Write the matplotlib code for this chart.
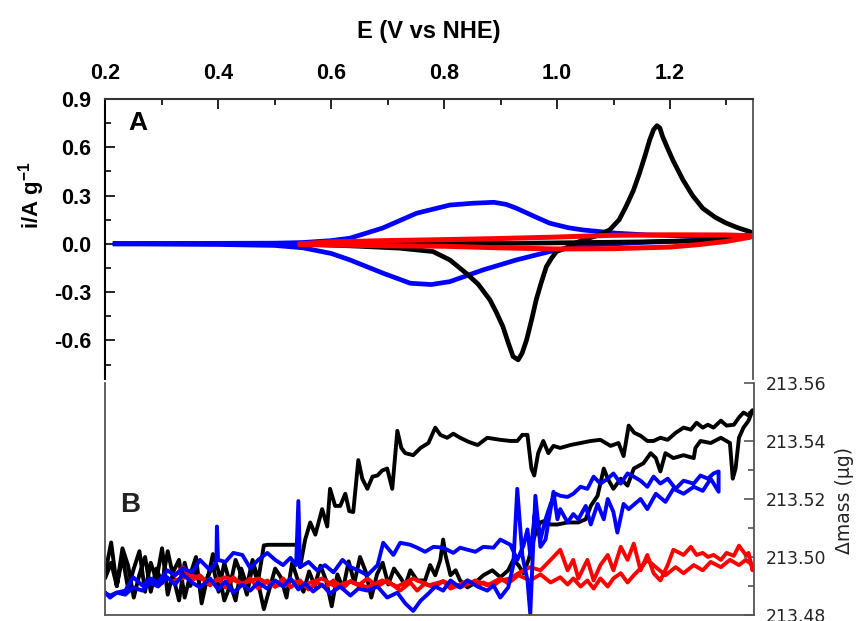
import matplotlib
matplotlib.use("Agg")
import matplotlib.pyplot as plt
import matplotlib.ticker as ticker

plt.rcParams['font.family'] = ['Liberation Sans', 'DejaVu Sans']
plt.rcParams['axes.unicode_minus'] = False
plt.rcParams['mathtext.fontset'] = 'custom'
plt.rcParams['mathtext.rm'] = 'Liberation Sans'
plt.rcParams['mathtext.bf'] = 'Liberation Sans:bold'

# ---- panel A: cyclic voltammograms (E in V vs NHE, i in A/g) ----
cv_black_E = [0.545, 0.60, 0.65, 0.721, 0.78, 0.81, 0.839, 0.86, 0.881, 0.893, 0.904, 0.913,
              0.922, 0.931, 0.938, 0.946, 0.955, 0.963, 0.972, 0.981, 0.99, 0.999, 1.02, 1.045,
              1.07, 1.093, 1.11, 1.122, 1.135, 1.146, 1.156, 1.164, 1.171, 1.177, 1.182, 1.187,
              1.195, 1.205, 1.223, 1.24, 1.258, 1.28, 1.30, 1.32, 1.341, 1.347,
              1.33, 1.30, 1.25, 1.15, 1.05, 0.95, 0.85, 0.70, 0.545]
cv_black_i = [0.0, -0.008, -0.015, -0.027, -0.048, -0.10, -0.183, -0.25, -0.348, -0.43, -0.514, -0.61,
              -0.70, -0.721, -0.68, -0.597, -0.47, -0.348, -0.24, -0.142, -0.09, -0.048, -0.02, 0.024,
              0.05, 0.086, 0.15, 0.231, 0.33, 0.439, 0.55, 0.645, 0.71, 0.734, 0.72, 0.666,
              0.60, 0.521, 0.397, 0.30, 0.221, 0.165, 0.128, 0.10, 0.076, 0.065,
              0.045, 0.03, 0.02, 0.012, 0.008, 0.004, 0.002, 0.001, 0.0]

cv_blue_E = [0.217, 0.30, 0.40, 0.50, 0.55, 0.60, 0.633, 0.691, 0.751, 0.81, 0.85, 0.888, 0.91,
             0.928, 0.96, 0.987, 1.02, 1.046, 1.105, 1.16, 1.25, 1.347,
             1.30, 1.25, 1.16, 1.10, 1.046, 0.987, 0.928, 0.869, 0.81, 0.777, 0.74, 0.692,
             0.633, 0.60, 0.55, 0.50, 0.40, 0.30, 0.217]
cv_blue_i = [0.0, 0.002, 0.003, 0.004, 0.008, 0.02, 0.035, 0.098, 0.19, 0.241, 0.252, 0.258, 0.245,
             0.221, 0.17, 0.128, 0.10, 0.086, 0.066, 0.055, 0.048, 0.045,
             0.03, 0.02, 0.01, 0.0, -0.007, -0.048, -0.10, -0.162, -0.235, -0.253, -0.245, -0.183,
             -0.10, -0.06, -0.025, -0.01, -0.004, -0.002, 0.0]

cv_red_E = [0.545, 0.60, 0.70, 0.80, 0.90, 1.00, 1.05, 1.10, 1.20, 1.30, 1.347,
            1.34, 1.30, 1.25, 1.20, 1.10, 1.00, 0.90, 0.80, 0.70, 0.60, 0.545]
cv_red_i = [0.0, 0.012, 0.02, 0.026, 0.033, 0.042, 0.048, 0.053, 0.056, 0.055, 0.05,
            0.04, 0.015, -0.005, -0.02, -0.03, -0.032, -0.025, -0.015, -0.012, -0.008, -0.004]

# ---- panel B: mass (ug) vs E ----
m_black_E = [0.20, 0.21, 0.22, 0.23, 0.24, 0.25, 0.26, 0.27, 0.28, 0.29, 0.30, 0.31, 0.32, 0.33,
             0.34, 0.35, 0.36, 0.37, 0.38, 0.39, 0.40, 0.41, 0.42, 0.43, 0.44, 0.45, 0.46, 0.47,
             0.48, 0.488, 0.539, 0.544, 0.553, 0.562, 0.571, 0.583, 0.592, 0.597, 0.606, 0.615,
             0.624, 0.631, 0.638, 0.647, 0.654, 0.663, 0.672, 0.681, 0.689, 0.698, 0.707, 0.716,
             0.723, 0.730, 0.744, 0.757, 0.771, 0.783, 0.792, 0.804, 0.815, 0.827, 0.842, 0.858,
             0.875, 0.898, 0.916, 0.928, 0.937, 0.946, 0.953, 0.958, 0.965, 0.974, 0.983, 0.992,
             1.004, 1.022, 1.040, 1.058, 1.075, 1.093, 1.107, 1.116, 1.125, 1.135, 1.146, 1.158,
             1.169, 1.181, 1.194, 1.208, 1.222, 1.235, 1.245, 1.256, 1.265, 1.275, 1.288, 1.298,
             1.311, 1.320, 1.328, 1.337, 1.344,
             1.337, 1.328, 1.320, 1.314, 1.309, 1.304, 1.288, 1.270, 1.252, 1.243, 1.240, 1.222,
             1.204, 1.190, 1.181, 1.173, 1.164, 1.151, 1.134, 1.123, 1.111, 1.098, 1.088, 1.081,
             1.075, 1.070, 1.058, 1.049, 1.036, 1.017, 0.999, 0.987, 0.974, 0.969, 0.962, 0.957,
             0.948, 0.939, 0.930, 0.921, 0.912, 0.898, 0.884, 0.868, 0.854, 0.840, 0.827, 0.819,
             0.810, 0.801, 0.797, 0.792, 0.783, 0.774, 0.765, 0.751, 0.739, 0.730, 0.721,
             0.71, 0.70, 0.69, 0.68, 0.67, 0.66, 0.65, 0.64, 0.63, 0.62, 0.61, 0.60, 0.59, 0.58,
             0.57, 0.56, 0.55, 0.54, 0.53, 0.52, 0.51, 0.50, 0.49, 0.48, 0.47, 0.46, 0.45, 0.44,
             0.43, 0.42, 0.41, 0.40, 0.39, 0.38, 0.37, 0.36, 0.35, 0.34, 0.33, 0.32, 0.31, 0.30,
             0.29, 0.28, 0.27, 0.26, 0.25, 0.24, 0.23, 0.22, 0.21, 0.20]
m_black = [213.495, 213.505, 213.490, 213.500, 213.489, 213.496, 213.502, 213.488, 213.498, 213.492,
           213.503, 213.487, 213.495, 213.499, 213.486, 213.494, 213.500, 213.484, 213.493, 213.497,
           213.488, 213.498, 213.491, 213.485, 213.496, 213.490, 213.499, 213.492,
           213.504, 213.5042, 213.5042, 213.4965, 213.506, 213.5119, 213.5077, 213.5165, 213.5105,
           213.5235, 213.5176, 213.5176, 213.5218, 213.5158, 213.5155, 213.5334, 213.5270, 213.5235,
           213.5277, 213.5281, 213.5298, 213.5305, 213.5235, 213.5435, 213.5376, 213.5358, 213.5351,
           213.5376, 213.5393, 213.5446, 213.5421, 213.5411, 213.5425, 213.5411, 213.5397, 213.5386,
           213.5411, 213.5404, 213.5400, 213.5400, 213.5421, 213.5421, 213.5305, 213.5281, 213.5358,
           213.5400, 213.5358, 213.5383, 213.5376, 213.5386, 213.5393, 213.5400, 213.5404, 213.5383,
           213.5393, 213.5348, 213.5453, 213.5428, 213.5418, 213.5400, 213.5400, 213.5411, 213.5404,
           213.5428, 213.5446, 213.5439, 213.5463, 213.5446, 213.5456, 213.5446, 213.5470, 213.5453,
           213.5456, 213.5481, 213.5498, 213.5488, 213.5506,
           213.5470, 213.5446, 213.5411, 213.5305, 213.5270, 213.5393, 213.5411, 213.5393, 213.5400,
           213.5376, 213.5341, 213.5351, 213.5341, 213.5358, 213.5295, 213.5341, 213.5358, 213.5323,
           213.5305, 213.5246, 213.5270, 213.5235, 213.5270, 213.5305, 213.5253, 213.5211, 213.5176,
           213.5130, 213.5119, 213.5119, 213.5112, 213.5112, 213.5123, 213.5119, 213.5095, 213.5060,
           213.4990, 213.4944, 213.4972, 213.4990, 213.4954, 213.4930, 213.4954, 213.4937, 213.4912,
           213.4895, 213.4919, 213.4954, 213.4937, 213.5007, 213.5060, 213.4990, 213.4937, 213.4972,
           213.4919, 213.4919, 213.4954, 213.4902, 213.4930,
           213.496, 213.4905, 213.498, 213.494, 213.486, 213.495, 213.500, 213.491, 213.4985,
           213.489, 213.494, 213.483, 213.492, 213.497, 213.490, 213.495, 213.488, 213.492, 213.498,
           213.486, 213.493, 213.496, 213.489, 213.482, 213.491, 213.497, 213.487, 213.494, 213.499,
           213.490, 213.485, 213.495, 213.501, 213.492, 213.487, 213.496, 213.490, 213.498, 213.485,
           213.493, 213.502, 213.491, 213.496, 213.488, 213.500, 213.494, 213.486, 213.497, 213.503,
           213.490, 213.498, 213.493]

m_blue_E = [0.201, 0.208, 0.220, 0.235, 0.249, 0.265, 0.279, 0.293, 0.309, 0.323, 0.337, 0.353,
            0.367, 0.385, 0.399, 0.412, 0.426, 0.442, 0.456, 0.470, 0.486, 0.500, 0.514, 0.527,
            0.541, 0.553, 0.567, 0.583, 0.597, 0.615, 0.633, 0.647, 0.663, 0.681, 0.698, 0.716,
            0.730, 0.744, 0.757, 0.771, 0.783, 0.797, 0.810, 0.827, 0.840, 0.858, 0.875, 0.886,
            0.898, 0.912, 0.921, 0.928, 0.937, 0.946, 0.951, 0.960, 0.969, 0.978, 0.992, 0.999,
            1.004, 1.017, 1.027, 1.036, 1.049, 1.058, 1.070, 1.081, 1.088, 1.098, 1.105, 1.116,
            1.125, 1.146, 1.158, 1.173, 1.190, 1.204, 1.222, 1.240, 1.256, 1.270, 1.284,
            1.284, 1.275, 1.265, 1.252, 1.240, 1.222, 1.208, 1.194, 1.181, 1.169, 1.158, 1.146,
            1.134, 1.123, 1.111, 1.098, 1.088, 1.075, 1.063, 1.052, 1.040, 1.027, 1.017, 1.004,
            0.996, 0.987, 0.978, 0.969, 0.960, 0.951, 0.946, 0.939, 0.928, 0.916, 0.898, 0.886,
            0.868, 0.854, 0.840, 0.827, 0.815, 0.797, 0.780, 0.765, 0.751, 0.739, 0.721, 0.709,
            0.691, 0.681, 0.663, 0.647, 0.633, 0.619, 0.603, 0.588, 0.574, 0.559, 0.544, 0.541,
            0.537, 0.527, 0.514, 0.500, 0.486, 0.470, 0.456, 0.442, 0.426, 0.412, 0.399, 0.397,
            0.396, 0.385, 0.367, 0.353, 0.337, 0.323, 0.309, 0.293, 0.279, 0.265, 0.249, 0.235,
            0.220, 0.208, 0.201]
m_blue = [213.4874, 213.4860, 213.4877, 213.4870, 213.4895, 213.4884, 213.4912, 213.4898, 213.4930,
          213.4905, 213.4940, 213.4912, 213.4895, 213.4926, 213.4888, 213.4916, 213.4877, 213.4905,
          213.4884, 213.4912, 213.4891, 213.4919, 213.4898, 213.4926, 213.4888, 213.4909, 213.4881,
          213.4905, 213.4874, 213.4898, 213.4867, 213.4891, 213.4884, 213.4898, 213.4860, 213.4877,
          213.4840, 213.4814, 213.4849, 213.4874, 213.4898, 213.4884, 213.4919, 213.4895, 213.4919,
          213.4898, 213.4884, 213.4902, 213.4860, 213.4895, 213.4972, 213.5235, 213.5005, 213.4920,
          213.4804, 213.5211, 213.5035, 213.5060, 213.5225, 213.5130, 213.5165, 213.5119, 213.5148,
          213.5130, 213.5176, 213.5112, 213.5183, 213.5130, 213.5200, 213.5155, 213.5084, 213.5183,
          213.5165, 213.5200, 213.5165, 213.5218, 213.5190, 213.5235, 213.5218, 213.5242, 213.5228,
          213.5270, 213.5225,
          213.5295, 213.5288, 213.5270, 213.5281, 213.5253, 213.5263, 213.5235, 213.5270, 213.5253,
          213.5277, 213.5242, 213.5263, 213.5277, 213.5288, 213.5253, 213.5288, 213.5270, 213.5253,
          213.5277, 213.5235, 213.5242, 213.5218, 213.5207, 213.5211, 213.5218, 213.5183, 213.5130,
          213.5060, 213.5165, 213.5007, 213.5095, 213.5039, 213.4990, 213.5042, 213.5060, 213.5032,
          213.5035, 213.5018, 213.5025, 213.5032, 213.5014, 213.5032, 213.5035, 213.5018, 213.5032,
          213.5042, 213.5049, 213.5007, 213.5049, 213.4972, 213.4937, 213.4954, 213.4965, 213.4990,
          213.4947, 213.4972, 213.4954, 213.4983, 213.4965, 213.5193, 213.4972, 213.4997, 213.4972,
          213.4990, 213.5014, 213.4990, 213.4961, 213.5007, 213.5014, 213.4983, 213.4990, 213.5105,
          213.4983, 213.4954, 213.4990, 213.4947, 213.4961, 213.4937, 213.4954, 213.4912, 213.4926,
          213.4902, 213.4930, 213.4884, 213.4877, 213.4867, 213.4874]

m_red_E = [0.323, 0.337, 0.353, 0.367, 0.385, 0.399, 0.412, 0.426, 0.442, 0.456, 0.470, 0.486,
           0.500, 0.514, 0.527, 0.544, 0.559, 0.574, 0.588, 0.603, 0.619, 0.633, 0.647, 0.663,
           0.681, 0.698, 0.721, 0.739, 0.751, 0.765, 0.780, 0.797, 0.810, 0.827, 0.840, 0.858,
           0.868, 0.884, 0.898, 0.916, 0.930, 0.951, 0.969, 0.987, 1.004, 1.017, 1.027, 1.036,
           1.052, 1.063, 1.075, 1.088, 1.098, 1.111, 1.123, 1.134, 1.146, 1.158, 1.169, 1.181,
           1.194, 1.204, 1.222, 1.235, 1.245, 1.256, 1.265, 1.275, 1.288, 1.298, 1.311, 1.320,
           1.332, 1.337, 1.344,
           1.344, 1.332, 1.320, 1.304, 1.288, 1.270, 1.256, 1.240, 1.222, 1.208, 1.190, 1.173,
           1.158, 1.146, 1.134, 1.123, 1.111, 1.098, 1.088, 1.075, 1.063, 1.052, 1.040, 1.027,
           1.017, 1.004, 0.987, 0.969, 0.951, 0.930, 0.912, 0.898, 0.875, 0.854, 0.827, 0.797,
           0.771, 0.744, 0.716, 0.689, 0.663, 0.633, 0.606, 0.583, 0.553, 0.527, 0.500, 0.470,
           0.442, 0.412, 0.385, 0.353, 0.323]
m_red = [213.4937, 213.4965, 213.4919, 213.4937, 213.4902, 213.4926, 213.4895, 213.4930, 213.4902,
         213.4926, 213.4891, 213.4919, 213.4898, 213.4926, 213.4895, 213.4919, 213.4888, 213.4912,
         213.4895, 213.4919, 213.4891, 213.4916, 213.4902, 213.4926, 213.4898, 213.4919, 213.4884,
         213.4912, 213.4884, 213.4909, 213.4895, 213.4916, 213.4891, 213.4905, 213.4919, 213.4902,
         213.4912, 213.4898, 213.4919, 213.4926, 213.4944, 213.4965, 213.4954, 213.4990, 213.5025,
         213.4954, 213.4990, 213.4926, 213.4990, 213.4919, 213.4972, 213.5007, 213.4954, 213.5035,
         213.4990, 213.5046, 213.4954, 213.5007, 213.4944, 213.4919, 213.4972, 213.5025, 213.5007,
         213.5035, 213.5007, 213.5014, 213.5000, 213.5007, 213.4990, 213.5014, 213.5004, 213.5039,
         213.5007, 213.5014, 213.4954,
         213.4972, 213.4990, 213.4972, 213.4990, 213.4965, 213.4983, 213.4954, 213.4972, 213.4944,
         213.4965, 213.4937, 213.4965, 213.4990, 213.4961, 213.4937, 213.4912, 213.4944, 213.4926,
         213.4898, 213.4926, 213.4891, 213.4919, 213.4898, 213.4926, 213.4905, 213.4930, 213.4912,
         213.4940, 213.4919, 213.4937, 213.4909, 213.4926, 213.4902, 213.4919, 213.4895, 213.4916,
         213.4902, 213.4926, 213.4898, 213.4919, 213.4895, 213.4916, 213.4898, 213.4926, 213.4905,
         213.4919, 213.4898, 213.4926, 213.4909, 213.4930, 213.4912, 213.4937, 213.4919]

fig = plt.figure(figsize=(8.57, 6.21), dpi=100)
axA = fig.add_axes([0.1231, 0.3897, 0.7555, 0.4509])
axB = fig.add_axes([0.1231, 0.0097, 0.7570, 0.3736])

# panel A
axA.plot(cv_blue_E, cv_blue_i, color='#0000ff', lw=3.4, solid_joinstyle='round')
axA.plot(cv_black_E, cv_black_i, color='black', lw=3.4, solid_joinstyle='round')
axA.plot(cv_red_E, cv_red_i, color='#ff0000', lw=3.6, solid_joinstyle='round')
axA.set_xlim(0.2, 1.347)
axA.set_ylim(-0.84, 0.9)
axA.xaxis.set_major_locator(ticker.MultipleLocator(0.2))
axA.xaxis.set_minor_locator(ticker.MultipleLocator(0.1))
axA.yaxis.set_major_locator(ticker.MultipleLocator(0.3))
axA.yaxis.set_minor_locator(ticker.MultipleLocator(0.15))
axA.xaxis.set_major_formatter(ticker.FormatStrFormatter('%.1f'))
axA.yaxis.set_major_formatter(ticker.FormatStrFormatter('%.1f'))
axA.xaxis.set_label_position('top')
axA.tick_params(axis='x', which='both', direction='in', top=True, bottom=False,
                labeltop=True, labelbottom=False, pad=11)
axA.tick_params(axis='y', which='both', direction='in', left=True, right=False, pad=10)
axA.tick_params(which='major', length=7, width=1.2, labelsize=15.5)
axA.tick_params(which='minor', length=4, width=1.2)
for lab in axA.get_xticklabels() + axA.get_yticklabels():
    lab.set_fontweight('bold')
axA.spines['bottom'].set_visible(False)
axA.spines['left'].set_linewidth(1.5)
axA.spines['top'].set_linewidth(1.5)
axA.spines['top'].set_color('#333333')
axA.spines['right'].set_color('#555555')
axA.spines['right'].set_linewidth(1.3)
axA.set_xlabel('E (V vs NHE)', fontsize=17, fontweight='bold', labelpad=18)
axA.text(0.035, 0.915, 'A', transform=axA.transAxes, fontsize=19, fontweight='bold',
         ha='left', va='center')
fig.text(0.037, 1 - 195 / 621, r'i/A g$^{\mathbf{-1}}$', rotation=90, fontsize=16,
         fontweight='bold', ha='center', va='center')

# panel B
axB.plot(m_black_E, m_black, color='black', lw=2.8)
axB.plot(m_red_E, m_red, color='#ff0000', lw=2.8)
axB.plot(m_blue_E, m_blue, color='#0000ff', lw=2.8)
axB.set_xlim(0.2, 1.347)
axB.set_ylim(213.48, 213.56)
axB.yaxis.set_major_locator(ticker.MultipleLocator(0.02))
axB.yaxis.set_minor_locator(ticker.MultipleLocator(0.01))
axB.yaxis.set_major_formatter(ticker.FormatStrFormatter('%.2f'))
axB.yaxis.tick_right()
axB.yaxis.set_label_position('right')
axB.tick_params(axis='y', which='both', direction='in', left=False, right=True,
                labelright=True, labelleft=False, colors='#555555', labelcolor='#222222', pad=8)
axB.tick_params(axis='y', which='major', length=7, width=1.2, labelsize=12.5)
axB.tick_params(axis='y', which='minor', length=4, width=1.2)
for lab in axB.get_yticklabels():
    lab.set_family('DejaVu Sans')
axB.tick_params(axis='x', which='both', bottom=False, top=False, labelbottom=False)
for s in axB.spines.values():
    s.set_color('#555555')
    s.set_linewidth(1.3)
axB.spines['top'].set_visible(False)
fig.text(1 - 12 / 857, 1 - 501 / 621, 'Δmass (μg)', fontsize=13.5, family='DejaVu Sans',
         color='#222222', rotation=90, ha='center', va='center')
axB.text(0.022, 0.475, 'B', transform=axB.transAxes, fontsize=20, fontweight='bold',
         ha='left', va='center', color='#222222')

fig.savefig('out.png', dpi=100)
